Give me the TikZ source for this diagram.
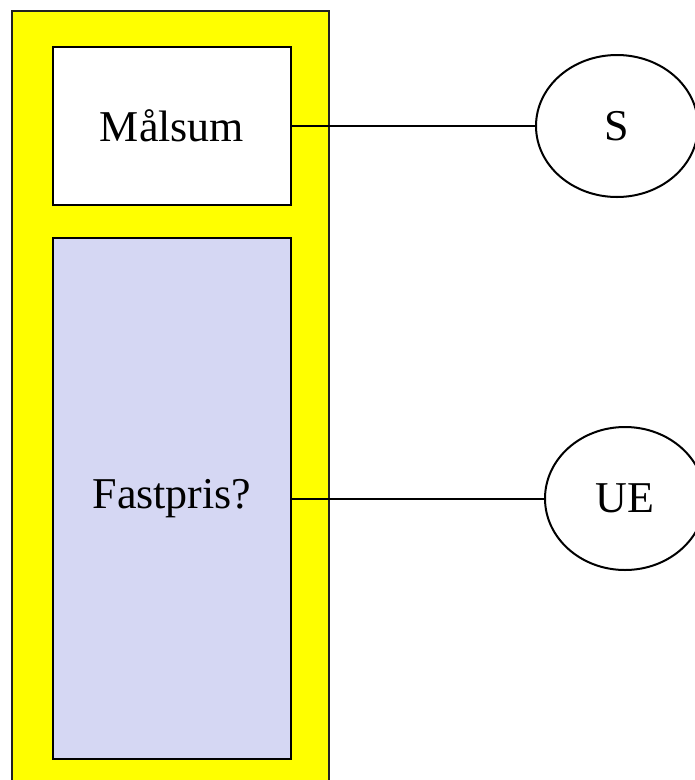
\documentclass[tikz,border=0pt]{standalone}
\usepackage{fontspec}
\setmainfont{Liberation Serif}
\usetikzlibrary{shapes.geometric}
\definecolor{lav}{RGB}{213,215,243}
\definecolor{yel}{RGB}{255,255,0}
\definecolor{frameborder}{RGB}{34,34,34}
\begin{document}
\begin{tikzpicture}[x=1pt,y=1pt,
  txt/.style={font=\fontsize{44}{52}\selectfont},
  box/.style={draw=black,line width=2.6pt,rectangle,inner sep=0pt,minimum width=238pt,txt},
  oval/.style={draw=black,line width=2pt,ellipse,inner sep=0pt,txt},
  conn/.style={line width=2pt}]
\useasboundingbox (0,0) rectangle (695,-780);
\clip (0,0) rectangle (695,-780);
\node[draw=frameborder,line width=2.4pt,fill=yel,rectangle,inner sep=0pt,
      minimum width=317pt,minimum height=800pt,anchor=north west] (frame) at (11,-10) {};
\node[box,fill=white,minimum height=158pt] (m) at (172,-126) {Målsum};
\node[box,fill=lav,minimum height=521pt] (f) at (172,-498.5) {Fastpris?};
\node[oval,minimum width=162pt,minimum height=142pt] (s) at (617,-126) {S};
\node[oval,minimum width=160pt,minimum height=143pt] (ue) at (625,-498.5) {UE};
\draw[conn] (m.east) -- (s.west);
\draw[conn] (f.east) -- (ue.west);
\end{tikzpicture}
\end{document}
